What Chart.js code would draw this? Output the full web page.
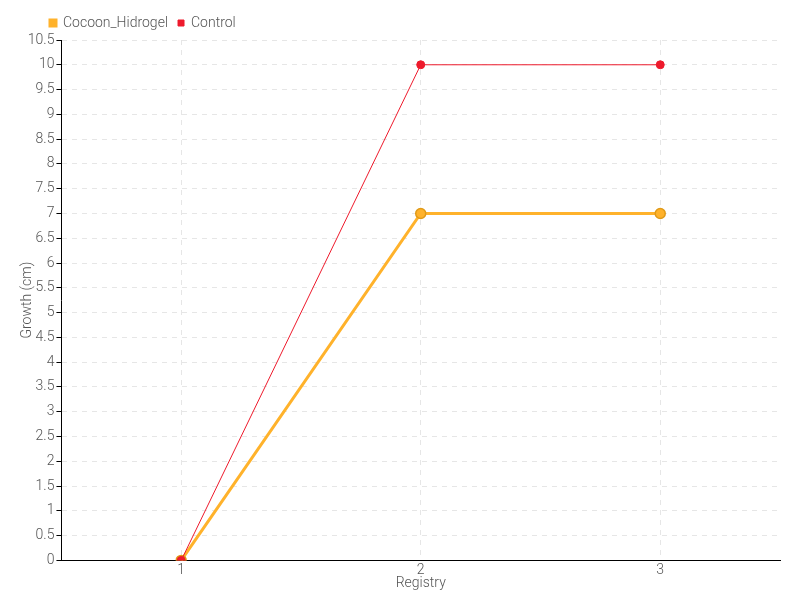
<!DOCTYPE html>
<html><head><meta charset="utf-8">
<script src="https://cdn.jsdelivr.net/npm/chart.js@4/dist/chart.umd.min.js"></script>
<style>html,body{margin:0;padding:0;background:#fff}#wrap{width:800px;height:600px}</style>
</head><body><div id="wrap"><canvas id="c" width="800" height="600"></canvas></div>
<script>
const categories = ["1", "2", "3"];
const cocoonHidrogel = [0, 7, 7];
const control = [0, 10, 10];
const seriesNames = ["Cocoon_Hidrogel", "Control"];
const yMax = 10.5;
const yStep = 0.5;

Chart.defaults.font.family = "Roboto, sans-serif";
Chart.defaults.font.size = 14;
Chart.defaults.font.weight = 300;
Chart.defaults.color = '#555';

new Chart(document.getElementById('c'), {
  type: 'line',
  data: {
    labels: categories,
    datasets: [
      {
        label: seriesNames[0], data: cocoonHidrogel, order: 1,
        borderColor: '#FFB22B', backgroundColor: '#FFB22B',
        borderWidth: 3, pointRadius: 5, pointBorderColor: '#E09A18', pointBorderWidth: 1.5,
        pointBackgroundColor: '#FFB22B', tension: 0, fill: false
      },
      {
        label: seriesNames[1], data: control, order: 0,
        borderColor: '#EE1A2C', backgroundColor: '#EE1A2C',
        borderWidth: 1, pointRadius: 4, pointBorderColor: '#EE1A2C', pointBorderWidth: 1,
        pointBackgroundColor: '#EE1A2C', tension: 0, fill: false
      }
    ]
  },
  options: {
    responsive: false, animation: false,
    layout: { padding: { left: 15, right: 20, top: 6, bottom: 5 } },
    plugins: {
      legend: {
        position: 'top', align: 'start',
        labels: {
          boxWidth: 6, boxHeight: 6, padding: 10, color: '#555', font: { size: 14 },
          sort: (a, b) => a.datasetIndex - b.datasetIndex
        }
      },
      tooltip: { enabled: false }
    },
    scales: {
      x: {
        type: 'category', offset: true,
        grid: { offset: false, color: '#e6e6e6', drawTicks: false },
        border: { display: true, color: '#000', width: 1, dash: [5, 5] },
        ticks: { color: '#555', font: { size: 14 }, padding: 2 },
        title: { display: true, text: 'Registry', color: '#555', font: { size: 14 }, padding: { top: -6, bottom: 3 } }
      },
      y: {
        min: 0, max: yMax,
        grid: { color: '#e6e6e6', tickColor: '#000', tickLength: 5 },
        border: { display: true, color: '#000', width: 1, dash: [5, 5] },
        ticks: { stepSize: yStep, color: '#555', font: { size: 14 }, padding: 2,
          callback: (v) => String(Math.round(v * 10) / 10) },
        title: { display: true, text: 'Growth (cm)', color: '#555', font: { size: 14 }, padding: { top: 4, bottom: -10 } }
      }
    }
  },
  plugins: [{
    id: 'legendShift',
    afterLayout(chart) { chart.legend.left = 40; }
  }]
});
</script></body></html>
